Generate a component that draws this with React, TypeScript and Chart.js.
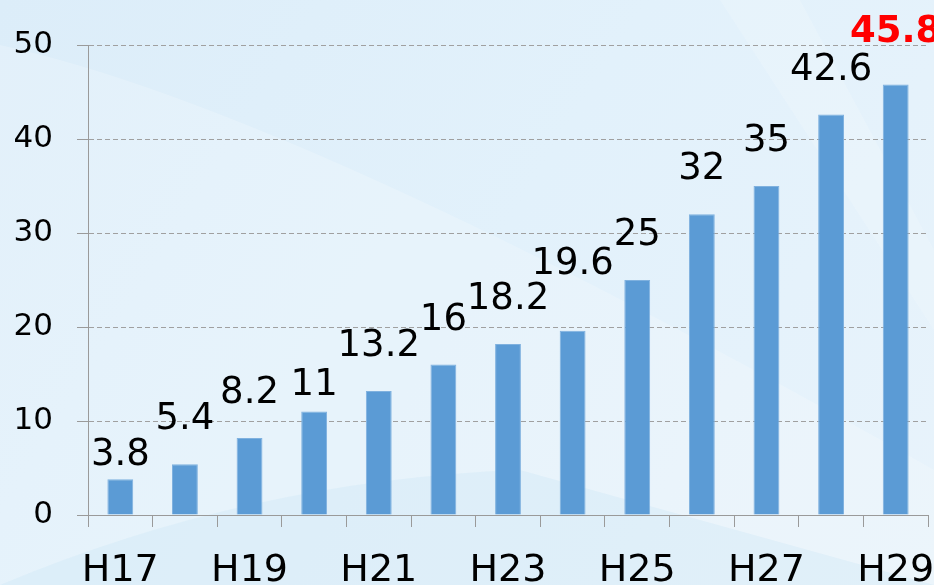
import React, { useEffect, useRef } from "react";
import { Chart, registerables } from "chart.js";

Chart.register(...registerables);

const categories = ["H17", "H18", "H19", "H20", "H21", "H22", "H23", "H24", "H25", "H26", "H27", "H28", "H29"];
const values = [3.8, 5.4, 8.2, 11, 13.2, 16, 18.2, 19.6, 25, 32, 35, 42.6, 45.8];
const valueLabels = ["3.8", "5.4", "8.2", "11", "13.2", "16", "18.2", "19.6", "25", "32", "35", "42.6", "45.8"];
// vertical nudge (px) of each value label relative to the default gap above its bar
const labelNudge = [21, 0, 0, 18, 0, 0, 0, -22, 0, 0, 0, 0, -7];
const yTicks = [0, 10, 20, 30, 40, 50];

const FONT = "'DejaVu Sans', Verdana, sans-serif";

const backgroundPlugin = {
  id: "bgPaint",
  beforeDraw(chart: any) {
    const { ctx, width, height } = chart;
    ctx.save();
    const g = ctx.createLinearGradient(0, 0, width, height);
    g.addColorStop(0, "#dcedf9");
    g.addColorStop(0.5, "#e2f1fb");
    g.addColorStop(1, "#e8f3fb");
    ctx.fillStyle = g;
    ctx.fillRect(0, 0, width, height);
    ctx.fillStyle = "rgba(255,255,255,0.2)";
    ctx.beginPath();
    ctx.moveTo(0, 45);
    ctx.quadraticCurveTo(300, 110, 934, 470);
    ctx.lineTo(934, 585);
    ctx.lineTo(0, 585);
    ctx.closePath();
    ctx.fill();
    ctx.fillStyle = "rgba(200,228,246,0.3)";
    ctx.beginPath();
    ctx.moveTo(0, 585);
    ctx.quadraticCurveTo(250, 480, 520, 470);
    ctx.lineTo(934, 585);
    ctx.closePath();
    ctx.fill();
    ctx.fillStyle = "rgba(255,255,255,0.15)";
    ctx.beginPath();
    ctx.moveTo(720, 0);
    ctx.lineTo(800, 0);
    ctx.lineTo(934, 250);
    ctx.lineTo(934, 330);
    ctx.closePath();
    ctx.fill();
    ctx.restore();
  },
};

const valueLabelPlugin = {
  id: "valueLabels",
  afterDatasetsDraw(chart: any) {
    const { ctx } = chart;
    const meta = chart.getDatasetMeta(0);
    ctx.save();
    ctx.textAlign = "center";
    ctx.textBaseline = "alphabetic";
    meta.data.forEach((bar: any, i: number) => {
      const last = i === values.length - 1;
      ctx.font = (last ? "bold " : "") + "37px " + FONT;
      ctx.fillStyle = last ? "#ff0000" : "#000000";
      ctx.fillText(valueLabels[i], bar.x, bar.y - 35 + labelNudge[i]);
    });
    ctx.restore();
  },
};

export default function App() {
  const ref = useRef<HTMLCanvasElement>(null);

  useEffect(() => {
    document.body.style.margin = "0";
    const chart = new Chart(ref.current!, {
      type: "bar",
      data: {
        labels: categories,
        datasets: [
          {
            data: values,
            backgroundColor: "#5b9bd5",
            borderColor: "#7fb1df",
            borderWidth: 1,
            barPercentage: 0.8,
            categoryPercentage: 0.5,
          },
        ],
      },
      options: {
        responsive: false,
        animation: false,
        layout: { padding: { top: 45, right: 6, left: 0, bottom: 0 } },
        plugins: {
          legend: { display: false },
          tooltip: { enabled: false },
        },
        scales: {
          x: {
            offset: true,
            grid: {
              offset: true,
              drawOnChartArea: false,
              drawTicks: true,
              tickLength: 12,
              color: "#9a9a9a",
            },
            border: { display: true, color: "#9a9a9a", width: 1 },
            ticks: {
              autoSkip: false,
              maxRotation: 0,
              padding: 21,
              color: "#000000",
              font: { family: FONT, size: 38 },
              callback: (_v: any, i: number) => (i % 2 === 0 ? categories[i] : ""),
            },
            afterFit: (s: any) => {
              s.height = 70;
              s.paddingLeft = 0;
              s.paddingRight = 0;
            },
          },
          y: {
            min: 0,
            max: 50,
            afterBuildTicks: (s: any) => {
              s.ticks = yTicks.map((v) => ({ value: v }));
            },
            grid: {
              color: "#a0a0a0",
              tickLength: 11,
              tickColor: "#9a9a9a",
              tickBorderDash: [],
            },
            border: { display: true, color: "#9a9a9a", width: 1, dash: [5, 3] },
            ticks: {
              padding: 24,
              color: "#000000",
              font: { family: FONT, size: 31 },
            },
            afterFit: (s: any) => {
              s.width = 88;
              s.paddingTop = 0;
              s.paddingBottom = 0;
            },
          },
        },
      },
      plugins: [backgroundPlugin, valueLabelPlugin],
    });
    return () => chart.destroy();
  }, []);

  return (
    <div style={{ position: "absolute", left: 0, top: 0, width: 934, height: 585 }}>
      <canvas ref={ref} width={934} height={585} />
    </div>
  );
}
